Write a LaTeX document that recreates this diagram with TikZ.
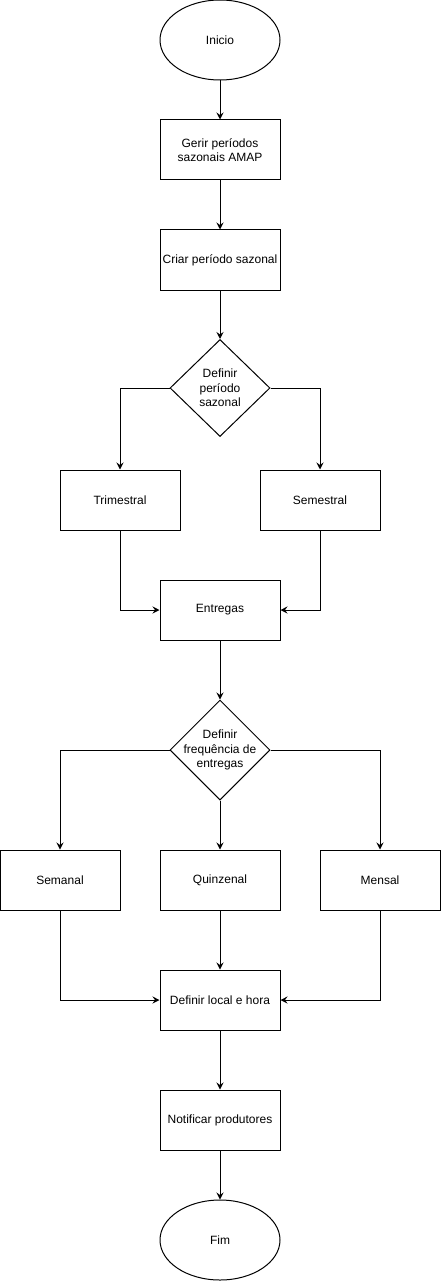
\documentclass[tikz,border=0pt]{standalone}
\usepackage{fontspec}
\setmainfont{Liberation Sans}
\usetikzlibrary{shapes.geometric,arrows.meta}
\begin{document}
\begin{tikzpicture}[x=1pt,y=-1pt,
  every node/.style={font=\fontsize{12}{14.4}\selectfont},
  box/.style={draw,line width=1pt,minimum width=120pt,minimum height=60pt,inner sep=0pt,align=center},
  term/.style={draw,ellipse,line width=1pt,minimum width=120pt,minimum height=80pt,inner sep=0pt},
  dec/.style={draw,diamond,line width=1pt,minimum width=100pt,minimum height=97pt,inner sep=0pt},
  flow/.style={line width=1pt,-{Stealth[length=7pt,width=7pt,inset=2.5pt]}}]
\useasboundingbox (0,0) rectangle (441,1281);
\node[term] (inicio) at (220,40) {Inicio};
\node[box] (gerir) at (220,150) {Gerir períodos\\sazonais AMAP};
\node[box] (criar) at (220,260) {Criar período sazonal};
\node[dec,label={[align=center,font=\fontsize{12}{14.4}\selectfont]center:Definir\\período\\sazonal}] (d1) at (220,388) {};
\node[box] (trim) at (120,500) {Trimestral};
\node[box] (sem) at (320,500) {Semestral};
\node[box] (entregas) at (220,610) {Entregas};
\node[dec,minimum height=100pt,label={[align=center,font=\fontsize{12}{14.4}\selectfont]center:Definir\\frequência de\\entregas}] (d2) at (220,750) {};
\node[box] (semanal) at (60,880) {Semanal};
\node[box] (quinz) at (220,880) {Quinzenal};
\node[box] (mensal) at (380,880) {Mensal};
\node[box] (local) at (220,1000) {Definir local e hora};
\node[box] (notif) at (220,1120) {Notificar produtores};
\node[term] (fim) at (220,1240) {Fim};
\draw[flow] (inicio) -- (gerir);
\draw[flow] (gerir) -- (criar);
\draw[flow] (criar) -- (d1);
\draw[flow] (d1.west) -| (trim.north);
\draw[flow] (d1.east) -| (sem.north);
\draw[flow] (trim.south) |- (entregas.west);
\draw[flow] (sem.south) |- (entregas.east);
\draw[flow] (entregas) -- (d2);
\draw[flow] (d2.west) -| (semanal.north);
\draw[flow] (d2) -- (quinz);
\draw[flow] (d2.east) -| (mensal.north);
\draw[flow] (semanal.south) |- (local.west);
\draw[flow] (quinz) -- (local);
\draw[flow] (mensal.south) |- (local.east);
\draw[flow] (local) -- (notif);
\draw[flow] (notif) -- (fim);
\end{tikzpicture}
\end{document}
